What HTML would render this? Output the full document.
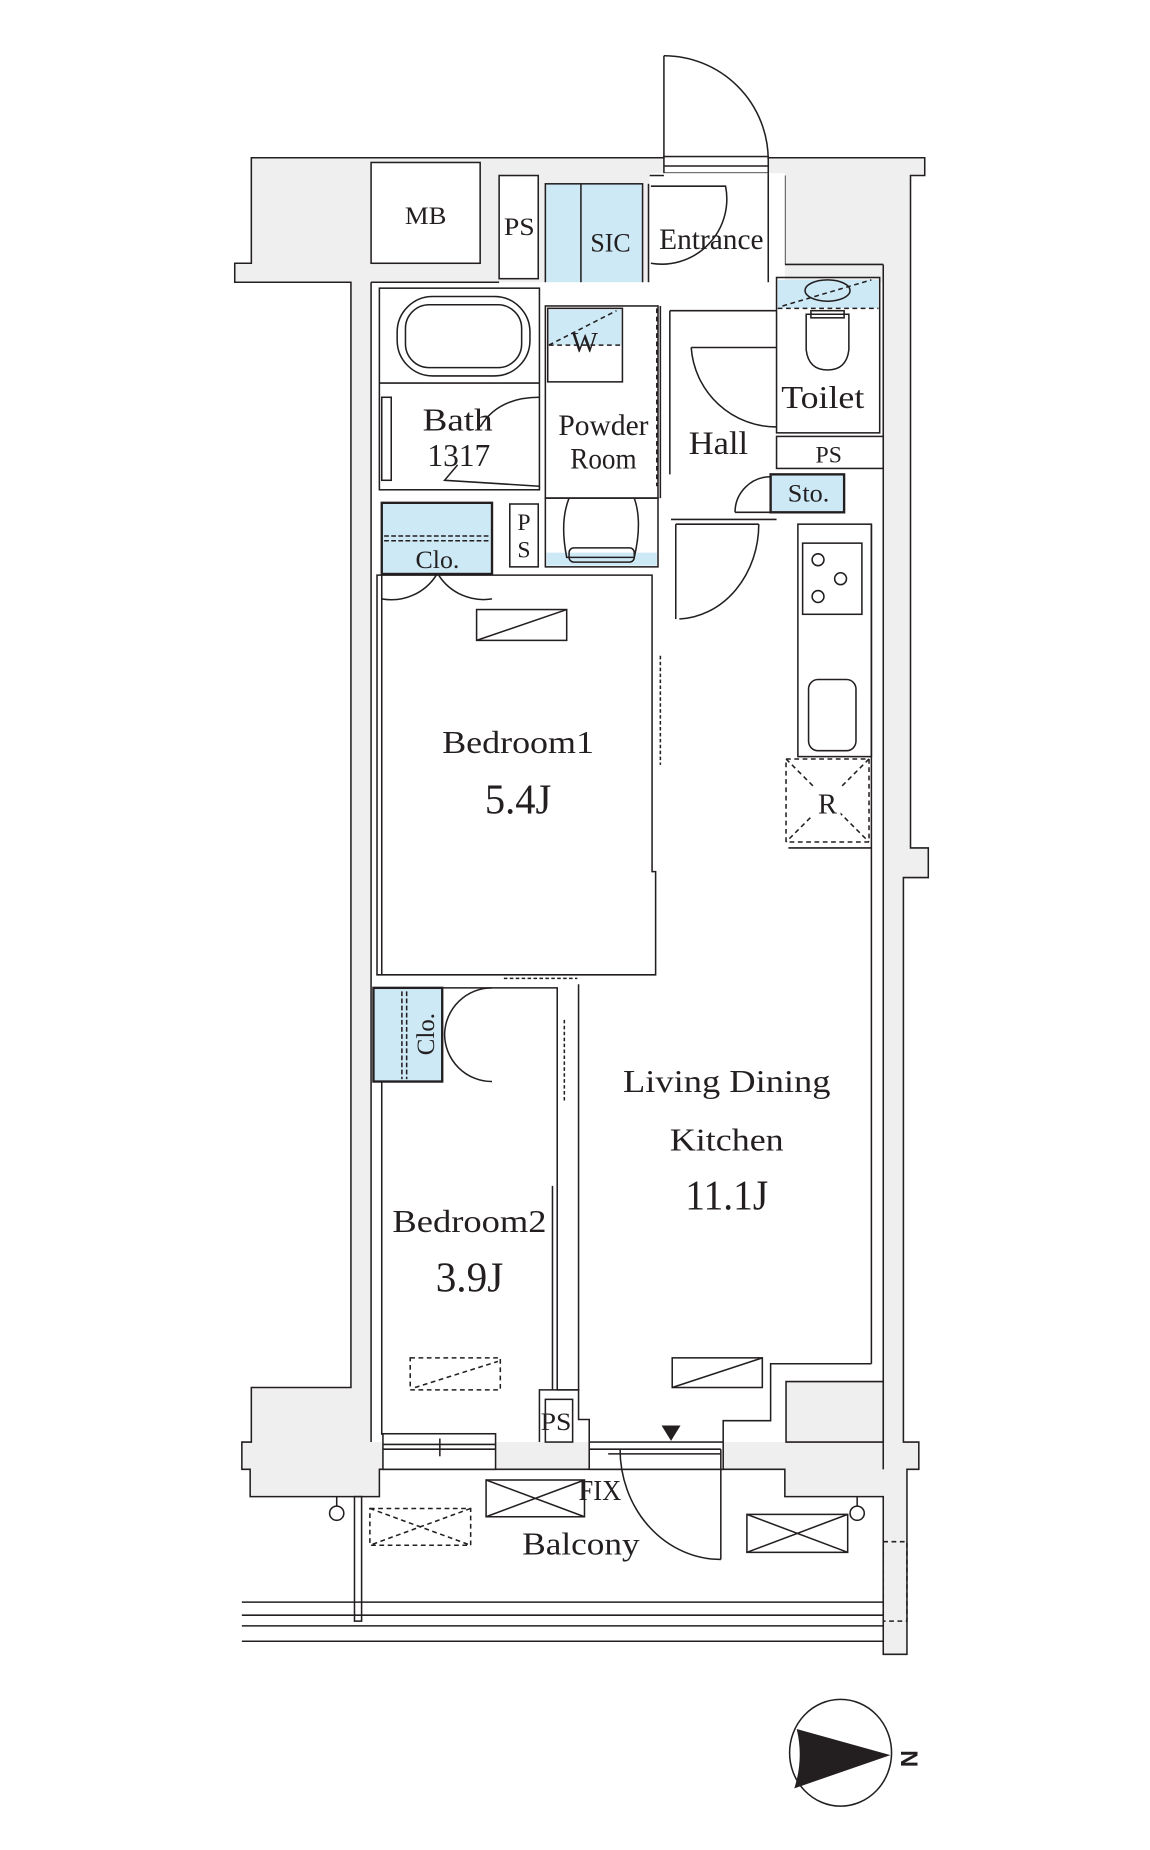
<!DOCTYPE html>
<html><head><meta charset="utf-8"><style>html,body{margin:0;padding:0;background:#fff}svg{display:block}</style></head><body>
<svg width="1150" height="1850" viewBox="0 0 970 1560" preserveAspectRatio="none" xmlns="http://www.w3.org/2000/svg" font-family="Liberation Serif, serif" fill="none" stroke="#231f20" stroke-width="1.3">
<polygon fill="#efefef" points="212,133 780,133 780,148 768,148 768,715 783,715 783,740 762,740 762,1216 775,1216 775,1239 765,1239 765,1395 745,1395 745,1262 662,1262 662,1239 320,1239 320,1262 211,1262 211,1239 204,1239 204,1216 212,1216 212,1170 296,1170 296,238 198,238 198,222 212,222"/>
<rect x="560" y="132" width="88" height="14" fill="#fff"/>
<line x1="560" y1="140" x2="648" y2="140"/>
<rect x="313" y="137" width="92" height="85" fill="#fff"/>
<rect x="421" y="148" width="33" height="87" fill="#fff"/>
<rect x="548" y="146" width="101" height="104" fill="#fff" stroke="none"/>
<line x1="548" y1="148" x2="560" y2="148"/><line x1="648" y1="146" x2="648" y2="250"/><line x1="550" y1="250" x2="648" y2="250"/>
<rect x="460" y="155" width="82" height="95" fill="#cde9f5"/>
<line x1="490" y1="155" x2="490" y2="250"/>
<line x1="547" y1="155" x2="547" y2="250"/>
<path d="M549,157 L612,157 A55,55 0 0 1 549,222"/>
<line x1="560" y1="47" x2="560" y2="133"/>
<path d="M560,47 A88,88 0 0 1 648,135"/>
<rect x="313" y="238" width="432" height="978" fill="#fff" stroke="none"/>
<line x1="313" y1="238" x2="313" y2="1216"/>
<line x1="313" y1="238" x2="421" y2="238"/>
<line x1="745" y1="223" x2="745" y2="1170"/>
<line x1="662" y1="148" x2="662" y2="223"/><line x1="662" y1="223" x2="745" y2="223"/>
<rect x="649" y="146" width="13" height="92" fill="#fff" stroke="none"/>
<rect x="320" y="243" width="135" height="170"/>
<line x1="320" y1="323" x2="455" y2="323"/>
<rect x="335" y="250" width="112" height="67" rx="30"/>
<rect x="342" y="257" width="98" height="53" rx="20"/>
<rect x="322" y="335" width="8" height="70"/>
<path d="M455,335 Q420,335 405,360 M386,392 L375,405 L455,410"/>
<text x="386" y="363" font-size="27" fill="#231f20" stroke="none" text-anchor="middle" textLength="59" lengthAdjust="spacingAndGlyphs">Bath</text>
<text x="387" y="393" font-size="27" fill="#231f20" stroke="none" text-anchor="middle" textLength="53" lengthAdjust="spacingAndGlyphs">1317</text>
<rect x="460" y="258" width="95" height="162"/>
<rect x="462" y="260" width="63" height="62" fill="#fff"/>
<rect x="463" y="261" width="61" height="30" fill="#cde9f5" stroke="none"/>
<line x1="463" y1="291" x2="524" y2="291" stroke-dasharray="4,3"/>
<line x1="463" y1="291" x2="520" y2="262" stroke-dasharray="4,3"/>
<text x="493" y="297" font-size="24" fill="#231f20" stroke="none" text-anchor="middle">W</text>
<line x1="554" y1="260" x2="554" y2="410" stroke-dasharray="4,3"/>
<text x="509" y="367" font-size="25" fill="#231f20" stroke="none" text-anchor="middle" textLength="76" lengthAdjust="spacingAndGlyphs">Powder</text>
<text x="509" y="395" font-size="25" fill="#231f20" stroke="none" text-anchor="middle" textLength="56" lengthAdjust="spacingAndGlyphs">Room</text>
<rect x="460" y="420" width="95" height="58"/>
<rect x="461" y="466" width="93" height="11" fill="#cde9f5" stroke="none"/>
<path d="M480,420 Q472,440 478,470 L535,470 Q542,440 535,420"/>
<rect x="480" y="462" width="55" height="12" rx="4"/>
<rect x="430" y="425" width="24" height="53"/>
<text x="442" y="447" font-size="20" fill="#231f20" stroke="none" text-anchor="middle">P</text>
<text x="442" y="470" font-size="20" fill="#231f20" stroke="none" text-anchor="middle">S</text>
<rect x="322" y="424" width="93" height="60" fill="#cde9f5" stroke-width="2"/>
<line x1="324" y1="452" x2="413" y2="452" stroke-dasharray="4,2"/><line x1="324" y1="456" x2="413" y2="456" stroke-dasharray="4,2"/>
<text x="369" y="479" font-size="21" fill="#231f20" stroke="none" text-anchor="middle" textLength="37" lengthAdjust="spacingAndGlyphs">Clo.</text>
<line x1="565" y1="262" x2="565" y2="400"/><line x1="557" y1="258" x2="557" y2="420"/>
<line x1="565" y1="262" x2="655" y2="262"/>
<line x1="583" y1="293" x2="655" y2="293"/>
<path d="M583,293 A72,72 0 0 0 655,360"/>
<text x="606" y="383" font-size="28" fill="#231f20" stroke="none" text-anchor="middle" textLength="50" lengthAdjust="spacingAndGlyphs">Hall</text>
<line x1="566" y1="438" x2="655" y2="438"/>
<rect x="655" y="234" width="87" height="131"/>
<rect x="656" y="236" width="85" height="24" fill="#cde9f5" stroke="none"/>
<line x1="656" y1="260" x2="741" y2="260" stroke-dasharray="4,3"/>
<ellipse cx="698" cy="245" rx="19" ry="9"/>
<line x1="660" y1="258" x2="735" y2="236" stroke-dasharray="4,3"/>
<path d="M680,265 L680,295 Q682,312 698,312 Q714,312 716,295 L716,265 Z"/>
<rect x="684" y="262" width="28" height="6"/>
<text x="694" y="344" font-size="27" fill="#231f20" stroke="none" text-anchor="middle" textLength="70" lengthAdjust="spacingAndGlyphs">Toilet</text>
<rect x="655" y="368" width="90" height="27"/>
<text x="699" y="390" font-size="20" fill="#231f20" stroke="none" text-anchor="middle">PS</text>
<rect x="650" y="400" width="62" height="32" fill="#cde9f5" stroke-width="2"/>
<text x="682" y="423" font-size="21" fill="#231f20" stroke="none" text-anchor="middle" textLength="35" lengthAdjust="spacingAndGlyphs">Sto.</text>
<path d="M620,432 A30,30 0 0 1 650,402"/><line x1="620" y1="432" x2="650" y2="432"/>
<line x1="570" y1="442" x2="570" y2="522"/>
<line x1="570" y1="442" x2="640" y2="442"/>
<path d="M640,442 A70,80 0 0 1 573,522"/>
<rect x="673" y="442" width="62" height="196"/>
<rect x="677" y="458" width="50" height="60"/>
<circle cx="690" cy="472" r="5"/><circle cx="709" cy="488" r="5"/><circle cx="690" cy="503" r="5"/>
<rect x="682" y="573" width="40" height="60" rx="8"/>
<rect x="663" y="640" width="70" height="70" stroke-dasharray="4,3"/>
<line x1="663" y1="640" x2="733" y2="710" stroke-dasharray="4,3"/><line x1="733" y1="640" x2="663" y2="710" stroke-dasharray="4,3"/>
<rect x="685" y="664" width="24" height="24" fill="#fff" stroke="none"/>
<text x="698" y="686" font-size="24" fill="#231f20" stroke="none" text-anchor="middle">R</text>
<line x1="735" y1="442" x2="735" y2="1150"/><line x1="665" y1="715" x2="735" y2="715"/>
<path d="M318,485 L550,485 L550,735 L553,735 L553,822 L487,822 L318,822 Z"/>
<line x1="557" y1="553" x2="557" y2="645" stroke-dasharray="3,2"/>
<line x1="322" y1="485" x2="322" y2="822"/>
<path d="M322,505 A45,45 0 0 0 368,485 M415,505 A45,45 0 0 1 370,485"/>
<rect x="402" y="514" width="76" height="26"/><line x1="402" y1="540" x2="478" y2="514"/>
<text x="437" y="635" font-size="27" fill="#231f20" stroke="none" text-anchor="middle" textLength="128" lengthAdjust="spacingAndGlyphs">Bedroom1</text>
<text x="437" y="686" font-size="36" fill="#231f20" stroke="none" text-anchor="middle" textLength="56" lengthAdjust="spacingAndGlyphs">5.4J</text>
<line x1="425" y1="825" x2="487" y2="825" stroke-dasharray="3,2"/>
<path d="M322,912 L322,1210 M322,833 L470,833 L470,1172 L488,1172 L488,830"/>
<line x1="476" y1="860" x2="476" y2="930" stroke-dasharray="3,2"/>
<line x1="466" y1="1000" x2="466" y2="1172"/>
<rect x="315" y="833" width="58" height="79" fill="#cde9f5" stroke-width="2"/>
<line x1="339" y1="836" x2="339" y2="910" stroke-dasharray="4,2"/><line x1="343" y1="836" x2="343" y2="910" stroke-dasharray="4,2"/>
<text x="0" y="0" font-size="21" fill="#231f20" stroke="none" text-anchor="middle" transform="translate(366,872) rotate(-90)">Clo.</text>
<path d="M375,872 A40,40 0 0 1 415,833 M375,872 A40,40 0 0 0 415,912"/>
<rect x="346" y="1145" width="76" height="27" stroke-dasharray="4,3"/><line x1="350" y1="1170" x2="420" y2="1148" stroke-dasharray="4,3"/>
<text x="396" y="1039" font-size="27" fill="#231f20" stroke="none" text-anchor="middle" textLength="130" lengthAdjust="spacingAndGlyphs">Bedroom2</text>
<text x="396" y="1089" font-size="36" fill="#231f20" stroke="none" text-anchor="middle" textLength="57" lengthAdjust="spacingAndGlyphs">3.9J</text>
<text x="613" y="921" font-size="27" fill="#231f20" stroke="none" text-anchor="middle" textLength="175" lengthAdjust="spacingAndGlyphs">Living Dining</text>
<text x="613" y="970" font-size="27" fill="#231f20" stroke="none" text-anchor="middle" textLength="96" lengthAdjust="spacingAndGlyphs">Kitchen</text>
<text x="613" y="1020" font-size="36" fill="#231f20" stroke="none" text-anchor="middle" textLength="70" lengthAdjust="spacingAndGlyphs">11.1J</text>
<rect x="567" y="1145" width="76" height="25"/><line x1="567" y1="1170" x2="643" y2="1145"/>
<path d="M735,1150 L650,1150 L650,1198 L610,1198 L610,1216"/>
<polygon fill="#efefef" points="663,1165 745,1165 745,1216 663,1216"/>
<line x1="745" y1="1165" x2="745" y2="1239"/>
<path d="M455,1216 L455,1172 L488,1172 L488,1197 L497,1197 L497,1216"/>
<rect x="460" y="1180" width="23" height="36"/>
<text x="469" y="1206" font-size="21" fill="#231f20" stroke="none" text-anchor="middle" textLength="26" lengthAdjust="spacingAndGlyphs">PS</text>
<polygon fill="#231f20" stroke="none" points="558,1202 574,1202 566,1215"/>
<rect x="323" y="1209" width="95" height="30" fill="#fff"/>
<line x1="323" y1="1218" x2="418" y2="1218"/><line x1="323" y1="1222" x2="418" y2="1222"/>
<line x1="371" y1="1213" x2="371" y2="1228"/>
<rect x="497" y="1216" width="113" height="23" fill="#fff"/>
<line x1="497" y1="1222" x2="608" y2="1222"/><line x1="513" y1="1226" x2="608" y2="1226"/>
<line x1="608" y1="1222" x2="608" y2="1315"/>
<path d="M523,1222 A85,93 0 0 0 608,1315"/>
<rect x="410" y="1248" width="83" height="31"/><line x1="410" y1="1248" x2="493" y2="1279"/><line x1="493" y1="1248" x2="410" y2="1279"/>
<rect x="312" y="1272" width="85" height="31" stroke-dasharray="4,3"/><line x1="312" y1="1272" x2="397" y2="1303" stroke-dasharray="4,3"/><line x1="397" y1="1272" x2="312" y2="1303" stroke-dasharray="4,3"/>
<rect x="630" y="1277" width="85" height="32"/><line x1="630" y1="1277" x2="715" y2="1309"/><line x1="715" y1="1277" x2="630" y2="1309"/>
<rect x="745" y="1300" width="20" height="67" stroke-dasharray="4,3"/>
<line x1="284" y1="1262" x2="284" y2="1270"/><circle cx="284" cy="1276" r="6"/>
<line x1="723" y1="1262" x2="723" y2="1270"/><circle cx="723" cy="1276" r="6"/>
<rect x="299" y="1262" width="6" height="105"/>
<line x1="204" y1="1351" x2="745" y2="1351"/><line x1="204" y1="1362" x2="745" y2="1362"/>
<line x1="204" y1="1371" x2="745" y2="1371"/><line x1="204" y1="1384" x2="745" y2="1384"/>
<text x="506" y="1265" font-size="24" fill="#231f20" stroke="none" text-anchor="middle" textLength="36" lengthAdjust="spacingAndGlyphs">FIX</text>
<text x="490" y="1311" font-size="27" fill="#231f20" stroke="none" text-anchor="middle" textLength="99" lengthAdjust="spacingAndGlyphs">Balcony</text>
<ellipse cx="709" cy="1478" rx="43" ry="45"/>
<path d="M672,1458 L751,1480 L670,1508 Q678,1483 672,1458 Z" fill="#231f20" stroke="none"/>
<text x="0" y="0" font-size="20" font-weight="bold" font-family="Liberation Sans, sans-serif" fill="#231f20" stroke="none" text-anchor="middle" transform="translate(760,1483) rotate(90)">N</text>
<text x="359" y="189" font-size="21" fill="#231f20" stroke="none" text-anchor="middle" textLength="35" lengthAdjust="spacingAndGlyphs">MB</text>
<text x="438" y="198" font-size="21" fill="#231f20" stroke="none" text-anchor="middle" textLength="26" lengthAdjust="spacingAndGlyphs">PS</text>
<text x="515" y="212" font-size="22" fill="#231f20" stroke="none" text-anchor="middle" textLength="34" lengthAdjust="spacingAndGlyphs">SIC</text>
<text x="600" y="210" font-size="25" fill="#231f20" stroke="none" text-anchor="middle" textLength="88" lengthAdjust="spacingAndGlyphs">Entrance</text>
</svg>
</body></html>
